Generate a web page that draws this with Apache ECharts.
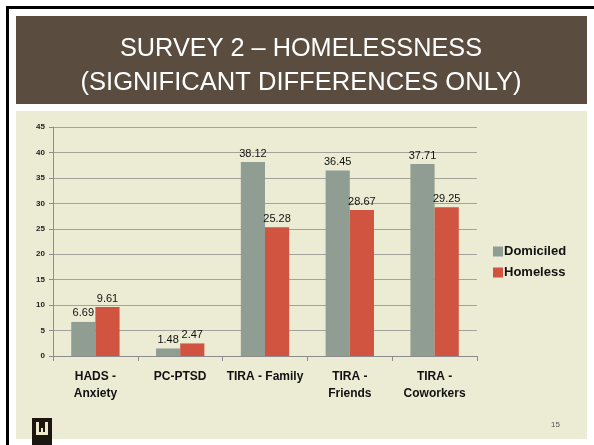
<!DOCTYPE html>
<html>
<head>
<meta charset="utf-8">
<script src="https://cdn.jsdelivr.net/npm/echarts@6/dist/echarts.min.js"></script>
<style>
  html, body { margin: 0; padding: 0; background: #fff; }
  #chart { width: 594px; height: 445px; }
</style>
</head>
<body>
<div id="chart"></div>
<script>
// data
const categories = ['HADS -\nAnxiety', 'PC-PTSD', 'TIRA - Family', 'TIRA -\nFriends', 'TIRA -\nCoworkers'];
const domiciled = [6.69, 1.48, 38.12, 36.45, 37.71];
const homeless = [9.61, 2.47, 25.28, 28.67, 29.25];
const seriesNames = ['Domiciled', 'Homeless'];
const titleLines = ['SURVEY 2 – HOMELESSNESS', '(SIGNIFICANT DIFFERENCES ONLY)'];

const chart = echarts.init(document.getElementById('chart'));

// stretch title lines to the width they take on the slide
const titleFont = '25px "Liberation Sans", Arial, sans-serif';
const ctx = document.createElement('canvas').getContext('2d');
ctx.font = titleFont;
const titleWidths = [362, 441];
const titleText = titleLines.map((t, i) => ({
  type: 'text',
  x: 301,
  y: i === 0 ? 49 : 83,
  scaleX: titleWidths[i] / ctx.measureText(t).width,
  style: { text: t, fill: '#fff', font: titleFont, align: 'center', verticalAlign: 'middle' }
}));

const labelStyle = {
  show: true,
  position: 'top',
  distance: 3,
  fontFamily: 'Liberation Sans, Arial, sans-serif',
  fontSize: 11,
  color: '#111',
  formatter: p => p.value.toFixed(2)
};

chart.setOption({
  animation: false,
  backgroundColor: '#fff',
  graphic: [
    // slide frame (left + top black lines)
    { type: 'rect', shape: { x: 6, y: 6, width: 3, height: 439 }, style: { fill: '#000' } },
    { type: 'rect', shape: { x: 6, y: 6, width: 588, height: 3 }, style: { fill: '#000' } },
    // title band
    { type: 'rect', shape: { x: 16, y: 16, width: 571, height: 88 }, style: { fill: '#5a4d3f' } },
    ...titleText,
    // content panel
    { type: 'rect', z: -1, shape: { x: 16, y: 111, width: 571, height: 328 }, style: { fill: '#ecebd4' } },
    // logo
    { type: 'rect', shape: { x: 32, y: 418, width: 20, height: 27 }, style: { fill: '#1b1610' } },
    { type: 'rect', shape: { x: 36, y: 422, width: 3, height: 13 }, style: { fill: '#efe8cc' } },
    { type: 'rect', shape: { x: 45, y: 422, width: 3, height: 13 }, style: { fill: '#efe8cc' } },
    { type: 'rect', shape: { x: 36, y: 432, width: 12, height: 3 }, style: { fill: '#efe8cc' } },
    { type: 'rect', shape: { x: 41, y: 428, width: 2, height: 5 }, style: { fill: '#efe8cc' } },
    {
      type: 'text', left: 551, top: 421,
      style: { text: '15', fill: '#555', font: '8px "Liberation Sans", Arial, sans-serif' }
    }
  ],
  legend: {
    data: seriesNames,
    orient: 'vertical',
    left: 488,
    top: 240,
    itemWidth: 10,
    itemHeight: 10,
    itemGap: 8,
    icon: 'rect',
    textStyle: {
      fontFamily: 'Liberation Sans, Arial, sans-serif',
      fontSize: 13,
      fontWeight: 'bold',
      color: '#111',
      padding: [0, 0, 0, -4]
    }
  },
  grid: { left: 53, top: 127, width: 424, height: 229 },
  xAxis: {
    type: 'category',
    data: categories,
    axisLine: { lineStyle: { color: '#8c8c8c' } },
    axisTick: { show: true, length: 5, lineStyle: { color: '#8c8c8c' } },
    axisLabel: {
      interval: 0,
      margin: 12,
      fontFamily: 'Liberation Sans, Arial, sans-serif',
      fontSize: 12,
      fontWeight: 'bold',
      color: '#111',
      lineHeight: 17
    }
  },
  yAxis: {
    type: 'value',
    min: 0,
    max: 45,
    interval: 5,
    axisLine: { show: true, lineStyle: { color: '#8c8c8c' } },
    axisTick: { show: true, length: 4, lineStyle: { color: '#8c8c8c' } },
    splitLine: { lineStyle: { color: '#a3a39b' } },
    axisLabel: {
      margin: 8,
      fontFamily: 'Liberation Sans, Arial, sans-serif',
      fontSize: 8,
      fontWeight: 'bold',
      color: '#222'
    }
  },
  series: [
    {
      name: seriesNames[0],
      type: 'bar',
      data: domiciled,
      barGap: '0%',
      barCategoryGap: '43%',
      itemStyle: { color: '#8f9d93' },
      label: labelStyle
    },
    {
      name: seriesNames[1],
      type: 'bar',
      data: homeless,
      itemStyle: { color: '#d0543f' },
      label: labelStyle
    }
  ]
});
</script>
</body>
</html>
